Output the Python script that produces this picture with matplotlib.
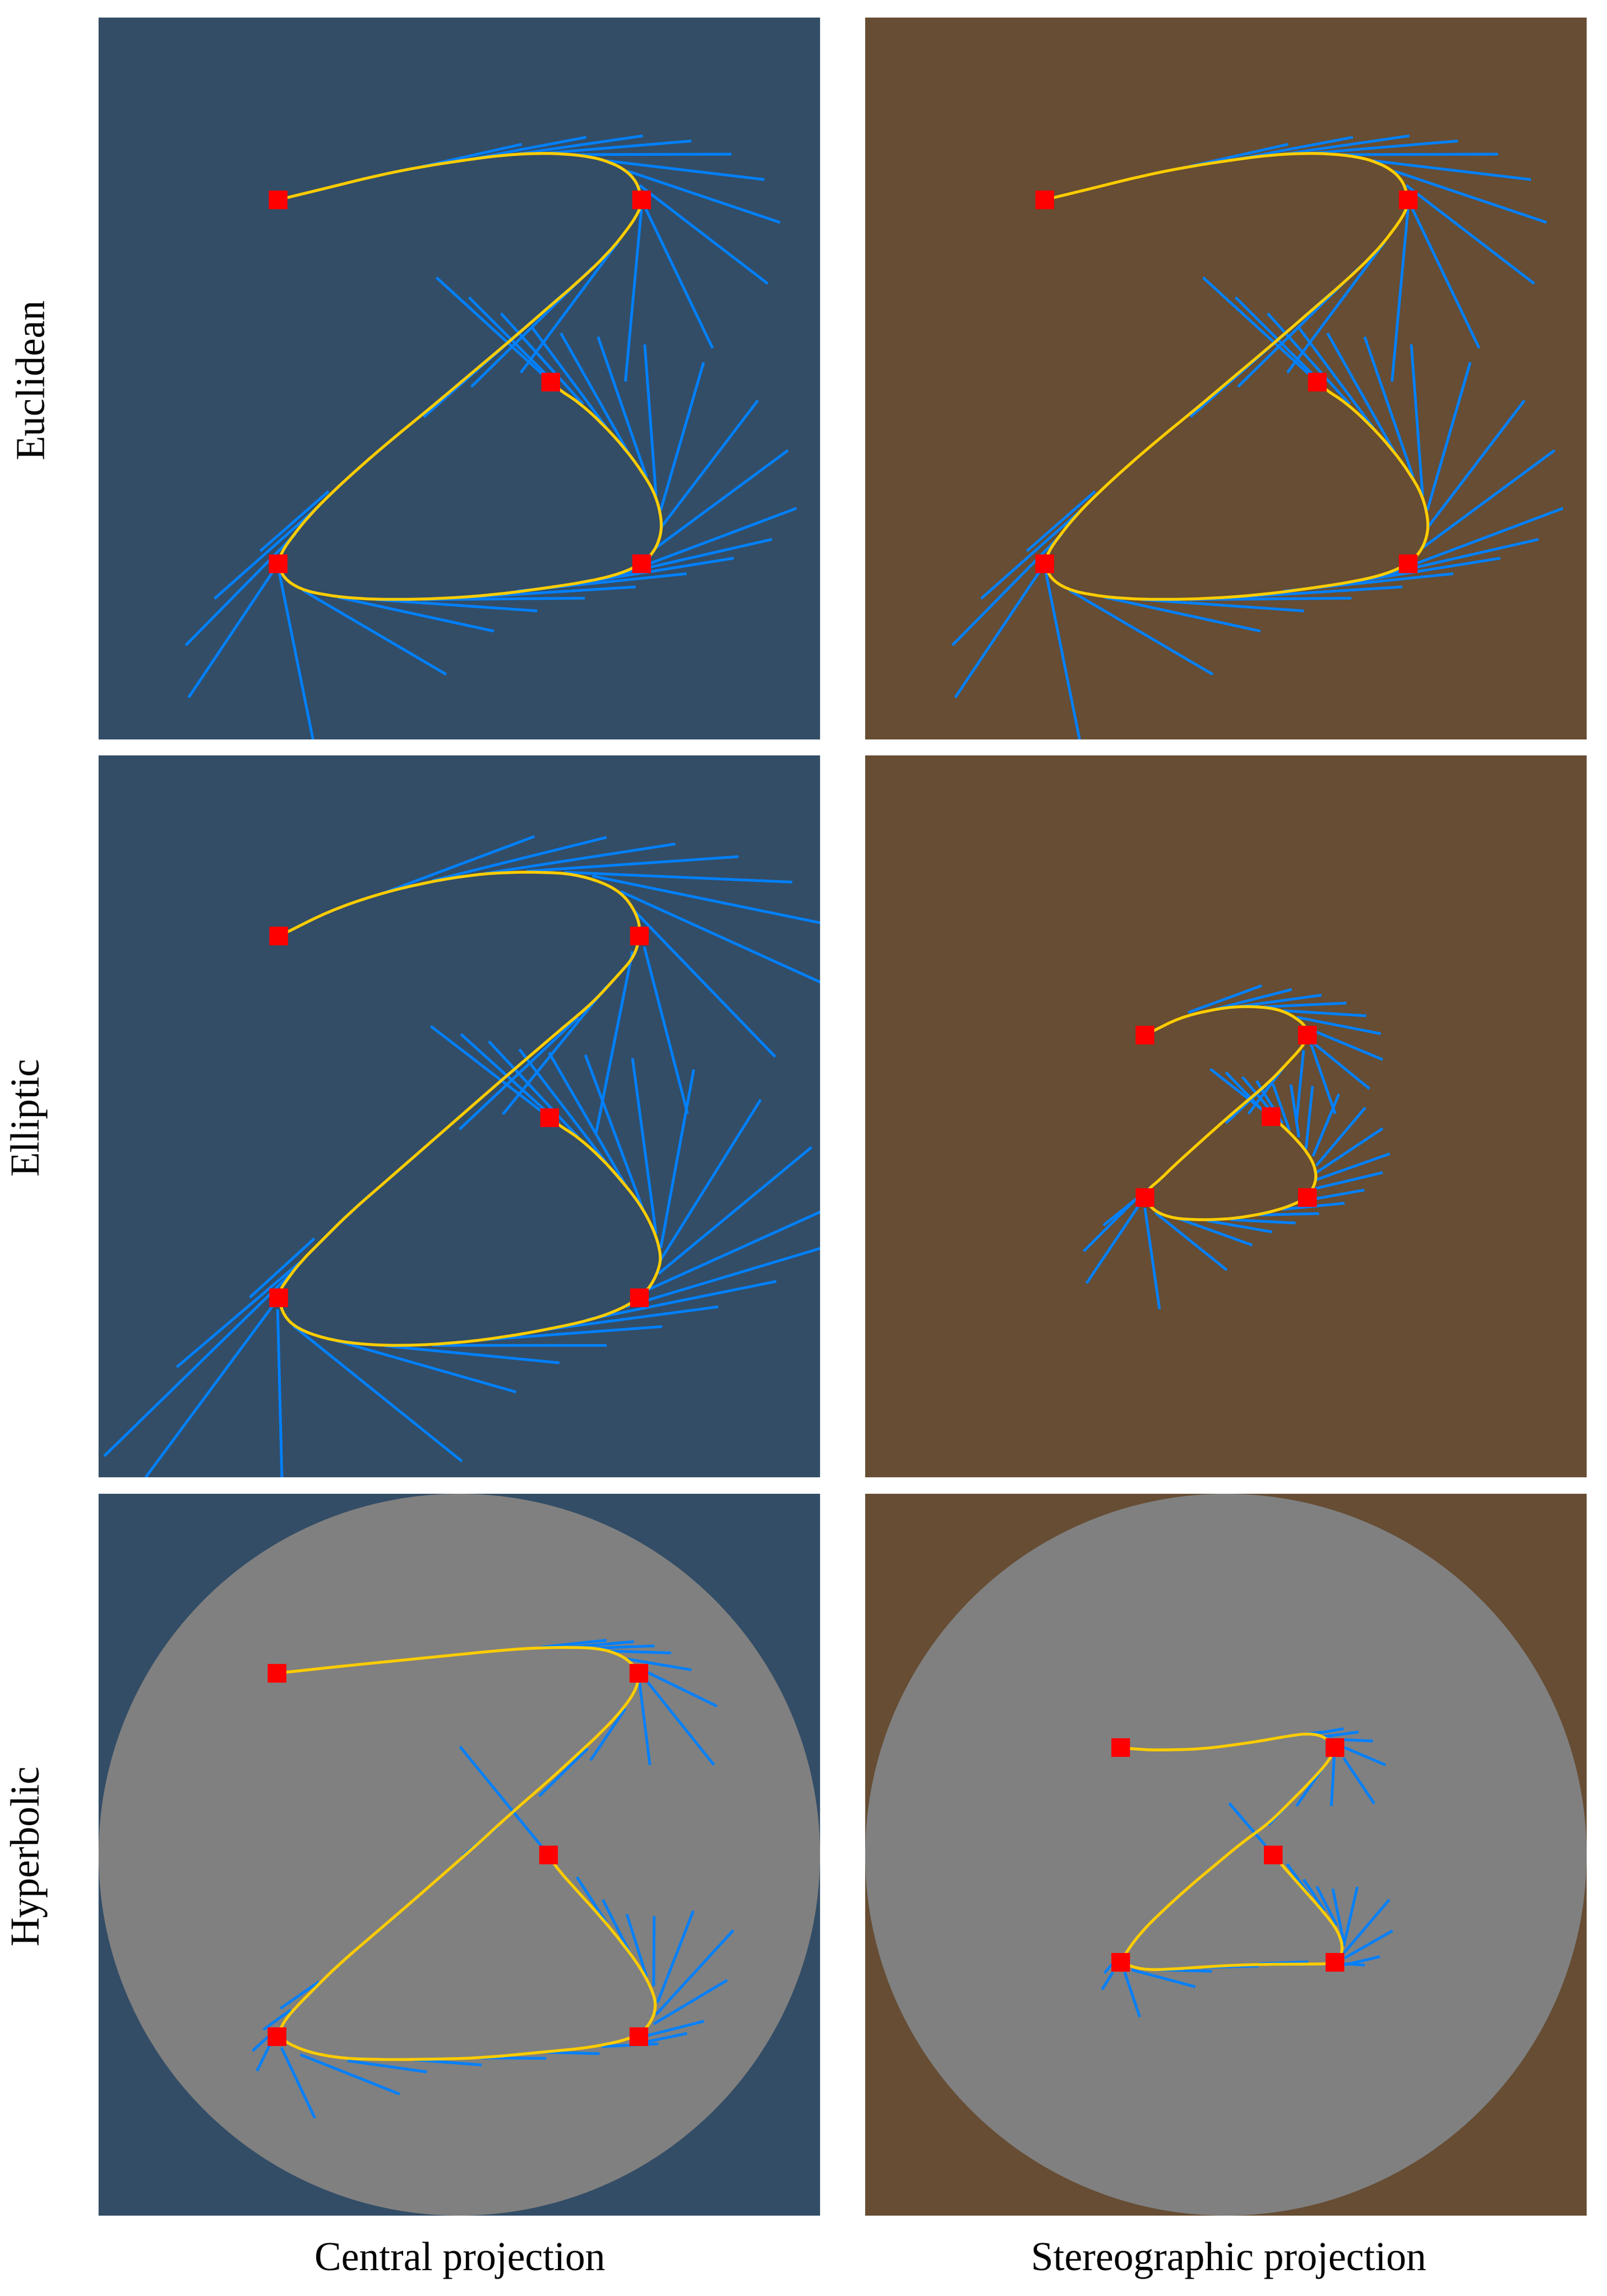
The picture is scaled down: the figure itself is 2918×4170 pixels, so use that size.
import matplotlib
matplotlib.use("Agg")
import matplotlib.pyplot as plt
from matplotlib.patches import Circle, PathPatch
from matplotlib.path import Path
from matplotlib.collections import LineCollection

W, H = 2918, 4170
BLUE_BG, BROWN_BG, GRAY = "#334d66", "#664d33", "#808080"
TAN, CURVE, NODE = "#0080ff", "#ffcc00", "#ff0000"
plt.rcParams["font.family"] = ["Liberation Serif", "DejaVu Serif"]

row_names = ["Euclidean", "Elliptic", "Hyperbolic"]
col_names = ["Central projection", "Stereographic projection"]

# Euclidean (both projections are the same picture)
euc_nodes = [(393,401),(1164,401),(972,788),(393,1174),(1164,1174)]
euc_curve = [(393,401),(413,396),(500,375),(600,350),(700,330),(800,315),(870,306),(940,302),(1000,303),(1060,310),
             (1100,322),(1130,338),(1150,358),(1160,380),(1164,401),(1160,425),(1130,470),(1090,518),(1030,575),(960,635),
             (880,705),(800,772),(720,840),(640,905),(570,965),(510,1020),(460,1070),(420,1120),(400,1150),(393,1174),
             (405,1205),(440,1228),(490,1240),(560,1248),(640,1250),(740,1248),(850,1240),(950,1227),(1050,1212),(1120,1195),
             (1164,1174),(1190,1150),(1205,1115),(1207,1080),(1195,1030),(1170,985),(1130,930),(1080,875),(1030,830),(990,805),(972,788)]
euc_tangents = [((700,330),(910,283)),((800,315),(1047,268)),((900,304),(1167,265)),((960,302),(1270,276)),
                ((1020,305),(1355,304)),((1090,318),(1425,358)),((1135,340),(1458,449)),((1160,370),(1432,579)),
                ((1164,401),(1315,716)),((1164,420),(1130,787)),((1115,490),(908,768)),((1060,545),(803,798)),
                ((1000,600),(702,862)),((500,1020),(355,1147)),((470,1060),(258,1248)),((430,1110),(197,1347)),
                ((393,1174),(203,1458)),((395,1190),(467,1547)),((445,1230),(750,1409)),((520,1245),(851,1317)),
                ((600,1250),(943,1274)),((700,1250),(1044,1247)),((800,1245),(1152,1223)),((900,1232),(1260,1195)),
                ((1000,1220),(1360,1162)),((1100,1200),(1441,1122)),((1164,1180),(1493,1056)),((1195,1140),(1475,933)),
                ((1207,1095),(1411,827)),((1205,1060),(1296,746)),((1195,1030),(1171,708)),((1175,990),(1072,692)),
                ((1140,945),(993,684)),((1090,885),(932,672)),((1040,835),(866,642)),((990,800),(798,608)),((972,788),(729,566))]

# Elliptic, central
ellc_nodes = [(394,398),(1160,398),(969,783),(394,1166),(1160,1166)]
ellc_curve = [(394,398),(415,388),(500,345),(600,310),(700,285),(800,268),(880,262),(960,262),(1020,266),(1080,283),
              (1120,305),(1145,335),(1160,370),(1160,398),(1150,440),(1115,480),(1060,540),(1000,590),(930,650),(860,710),
              (780,780),(700,850),(620,920),(545,985),(490,1040),(440,1090),(410,1130),(397,1150),(394,1166),(405,1205),
              (435,1232),(490,1252),(560,1264),(650,1268),(760,1263),(870,1250),(980,1230),(1060,1212),(1120,1190),(1160,1166),
              (1185,1140),(1203,1100),(1205,1070),(1190,1020),(1160,965),(1120,915),(1080,870),(1030,825),(990,800),(969,783)]
ellc_tangents = [((620,305),(937,186)),((720,280),(1090,188)),((830,265),(1236,202)),((920,260),(1370,229)),
                 ((1000,262),(1484,283)),((1060,270),(1560,373)),((1120,303),(1560,503)),((1150,345),(1448,654)),
                 ((1170,420),(1262,775)),((1145,430),(1068,815)),((1090,505),(870,776)),((1030,570),(778,808)),
                 ((470,1040),(333,1165)),((440,1090),(178,1313)),((420,1115),(24,1502)),((394,1166),(112,1547)),
                 ((392,1190),(401,1547)),((425,1225),(783,1513)),((510,1255),(898,1366)),((620,1268),(990,1304)),
                 ((720,1266),(1090,1266)),((830,1255),(1208,1227)),((950,1235),(1327,1185)),((1050,1212),(1450,1131)),
                 ((1130,1185),(1560,1056)),((1175,1150),(1560,976)),((1200,1115),(1525,846)),((1205,1085),(1417,745)),
                 ((1205,1060),(1275,681)),((1195,1030),(1145,657)),((1170,985),(1045,650)),((1135,935),(968,645)),
                 ((1090,880),(905,638)),((1030,825),(840,621)),((990,795),(781,606)),((969,783),(717,589))]

# Elliptic, stereographic
ells_nodes = [(608,608),(953,608),(876,781),(608,953),(953,953)]
ells_curve = [(608,608),(630,597),(680,572),(740,556),(800,547),(860,548),(900,556),(930,572),(950,590),(953,608),
              (945,630),(910,668),(870,710),(820,752),(770,795),(720,840),(670,885),(640,915),(615,935),(608,953),
              (625,980),(660,995),(700,1000),(770,1000),(830,993),(890,980),(930,965),(953,953),(972,920),(970,890),
              (955,860),(930,830),(900,800),(876,781)]
ells_tangents = [((700,560),(856,503)),((760,552),(920,511)),((810,547),(983,523)),((860,548),(1036,540)),
                 ((900,556),(1078,567)),((930,570),(1109,605)),((945,590),(1113,660)),((960,620),(1085,722)),
                 ((960,625),(1012,775)),((945,640),(930,790)),((900,680),(828,775)),((870,710),(780,795)),
                 ((640,915),(520,1012)),((600,945),(478,1067)),((595,970),(484,1135)),((608,975),(639,1190)),
                 ((630,985),(782,1107)),((680,998),(836,1054)),((740,1002),(878,1026)),((790,1000),(928,1007)),
                 ((850,990),(978,987)),((900,978),(1032,965)),((945,960),(1074,937)),((965,935),(1113,900)),
                 ((972,915),(1128,860)),((972,900),(1113,806)),((972,885),(1076,762)),((965,865),(1020,733)),
                 ((950,850),(964,716)),((935,825),(918,713)),((915,810),(880,712)),((900,795),(845,705)),
                 ((885,780),(815,697)),((860,770),(780,687)),((876,781),(747,680))]

# Hyperbolic, central
hypc_nodes = [(391,395),(1159,395),(967,781),(391,1167),(1159,1167)]
hypc_curve = [(391,395),(420,392),(520,381),(640,369),(760,357),(880,345),(950,341),(1020,340),(1070,342),(1110,352),
              (1140,370),(1159,395),(1155,425),(1130,465),(1085,515),(1020,575),(960,630),(890,690),(820,755),(740,825),
              (660,895),(590,955),(520,1015),(470,1065),(430,1105),(405,1135),(391,1167),(440,1195),(510,1211),(590,1216),
              (720,1215),(830,1212),(960,1199),(1060,1190),(1159,1167),(1185,1135),(1195,1105),(1190,1075),(1165,1025),(1125,970),
              (1080,915),(1030,860),(985,810),(967,781)]
hypc_tangents = [((950,340),(1090,325)),((1010,340),(1148,328)),((1060,342),(1192,337)),((1100,348),(1227,352)),
                 ((1135,365),(1270,388)),((1160,385),(1324,465)),((1170,405),(1318,590)),((1160,415),(1182,590)),
                 ((1130,470),(1056,580)),((1050,555),(947,656)),((860,720),(785,783)),((480,1050),(398,1107)),
                 ((420,1110),(362,1152)),((385,1155),(339,1197)),((375,1185),(348,1240)),((400,1190),(471,1340)),
                 ((440,1205),(651,1289)),((540,1218),(709,1242)),((680,1216),(825,1227)),((820,1212),(962,1213)),
                 ((960,1200),(1075,1203)),((1080,1188),(1200,1182)),((1165,1180),(1261,1160)),((1175,1165),(1297,1134)),
                 ((1190,1140),(1346,1047)),((1195,1120),(1359,941)),((1198,1095),(1274,900)),((1190,1060),(1191,911)),
                 ((1175,1040),(1133,907)),((1140,990),(1082,876)),((1090,925),(1027,828)),((967,781),(779,551))]

# Hyperbolic, stereographic
hyps_nodes = [(557,553),(1012,553),(881,781),(557,1009),(1012,1009)]
hyps_curve = [(557,553),(600,558),(660,558),(730,556),(800,547),(860,538),(920,527),(960,523),(990,530),(1012,553),
              (1000,580),(960,625),(920,665),(870,715),(820,750),(760,800),(700,850),(640,905),(600,945),(570,985),
              (557,1009),(600,1025),(660,1024),(730,1019),(800,1015),(880,1013),(950,1013),(1012,1012),(1030,985),(1020,945),
              (990,905),(950,860),(910,815),(881,781)]
hyps_tangents = [((900,530),(985,520)),((960,525),(1030,513)),((985,530),(1062,520)),((1000,535),(1092,539)),
                 ((1025,550),(1119,590)),((1030,575),(1095,672)),((1010,570),(1004,677)),((990,590),(930,677)),
                 ((920,665),(870,718)),((881,781),(787,671)),((545,1005),(522,1032)),((540,1030),(517,1067)),
                 ((565,1030),(597,1125)),((580,1025),(715,1061)),((640,1025),(750,1028)),((730,1020),(850,1017)),
                 ((850,1012),(955,1008)),((1030,1012),(1075,1015)),((1030,1015),(1107,997)),((1032,1000),(1134,942)),
                 ((1030,990),(1127,876)),((1030,975),(1059,849)),((1030,965),(1007,853)),((1015,930),(973,848)),
                 ((990,900),(945,833)),((960,870),(910,800))]

col_left = [179, 1571]
row_top = [32, 1372, 2713]
PANEL_W, PANEL_H = 1310, 1311
col_xlim = [(12, 1543), (14, 1546)]
ylim = (1547, 14)

panels = [
    (0, 0, euc_nodes, euc_curve, euc_tangents, False, (12, 1543)),
    (0, 1, euc_nodes, euc_curve, euc_tangents, False, (12, 1543)),
    (1, 0, ellc_nodes, ellc_curve, ellc_tangents, False, col_xlim[0]),
    (1, 1, ells_nodes, ells_curve, ells_tangents, False, col_xlim[1]),
    (2, 0, hypc_nodes, hypc_curve, hypc_tangents, True, col_xlim[0]),
    (2, 1, hyps_nodes, hyps_curve, hyps_tangents, True, col_xlim[1]),
]


def rounded_path(points):
    """Path through the read points with the polygon corners rounded off."""
    verts, codes = [points[0]], [Path.MOVETO]
    for a, b in zip(points[1:-1], points[2:]):
        mid = ((a[0] + b[0]) / 2, (a[1] + b[1]) / 2)
        verts += [a, mid]
        codes += [Path.CURVE3, Path.CURVE3]
    verts.append(points[-1])
    codes.append(Path.LINETO)
    return Path(verts, codes)


fig = plt.figure(figsize=(W / 100, H / 100), dpi=100, facecolor="white")
for r, c, nodes, curve, tangents, disc, xlim in panels:
    ax = fig.add_axes([col_left[c] / W, 1 - (row_top[r] + PANEL_H) / H, PANEL_W / W, PANEL_H / H])
    ax.set_facecolor(BLUE_BG if c == 0 else BROWN_BG)
    ax.set_xlim(*xlim)
    ax.set_ylim(*ylim)
    ax.set_xticks([])
    ax.set_yticks([])
    for s in ax.spines.values():
        s.set_visible(False)
    if disc:
        ax.add_patch(Circle((0.5, 0.5), 0.5, transform=ax.transAxes, fc=GRAY, ec="none", zorder=1))
    ax.add_collection(LineCollection(tangents, colors=TAN, linewidths=3.6, capstyle="butt", zorder=2))
    ax.add_patch(PathPatch(rounded_path(curve), fc="none", ec=CURVE, lw=3.8, zorder=3))
    ax.plot([p[0] for p in nodes], [p[1] for p in nodes], ls="none", marker="s", ms=24, mfc=NODE, mew=0, zorder=4)

label_y = [687, 2027, 3368]
label_x = [78, 69, 69]
for name, x, y in zip(row_names, label_x, label_y):
    fig.text(x / W, 1 - y / H, name, rotation=90, rotation_mode="anchor", ha="center", va="baseline",
             fontsize=52.5, color="black")
for name, x in zip(col_names, [835, 2231]):
    fig.text(x / W, 1 - 4123 / H, name, ha="center", va="baseline", fontsize=52.5, color="black")

fig.savefig("out.png", dpi=100, facecolor="white")
